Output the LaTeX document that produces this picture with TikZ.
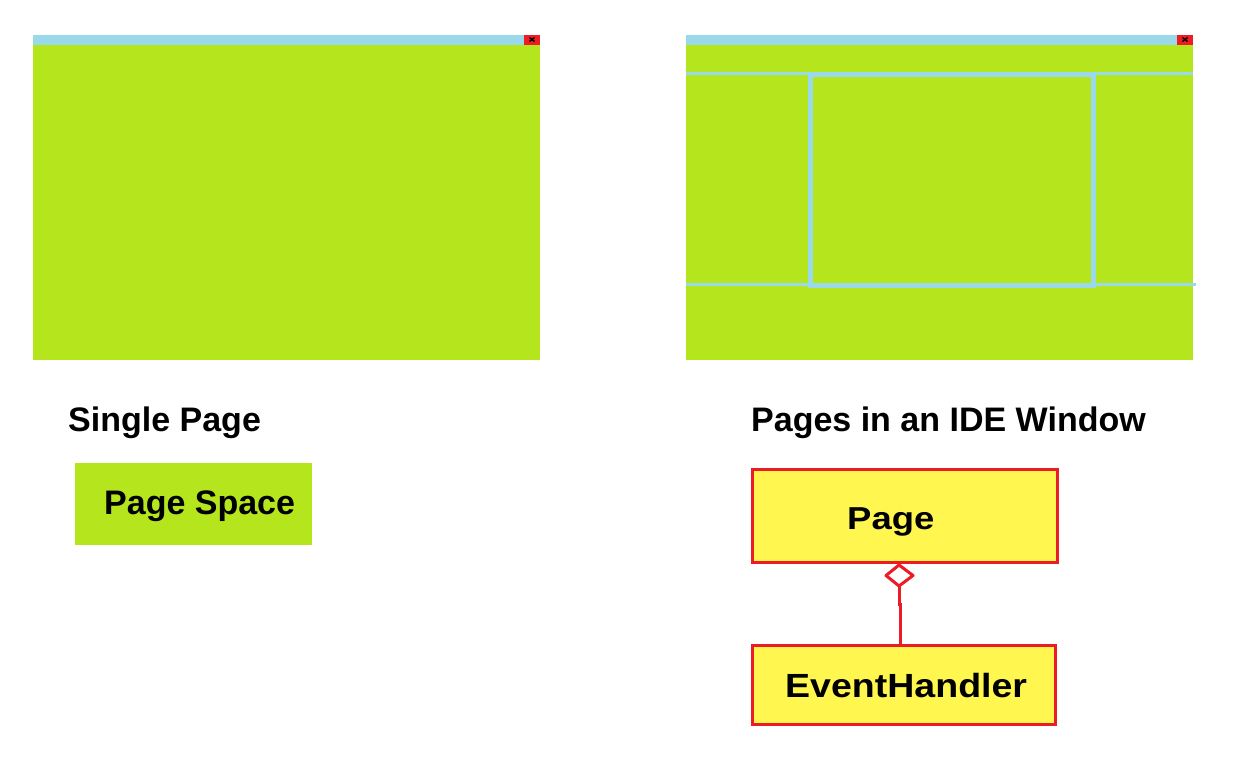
\documentclass[tikz,border=0pt]{standalone}
\usepackage{fontspec}
\setmainfont{Liberation Sans}
\usepackage{graphicx}
\definecolor{lime}{RGB}{181,230,29}
\definecolor{sky}{RGB}{153,217,234}
\definecolor{alert}{RGB}{237,28,36}
\definecolor{note}{RGB}{255,246,80}
\tikzset{
  pane/.style={fill=lime, draw=none},
  titlebar/.style={fill=sky, draw=none},
  closebtn/.style={fill=alert, draw=none},
  divider/.style={draw=sky, line width=3pt},
  caption/.style={font=\fontsize{34}{36}\selectfont\bfseries, inner sep=0pt, anchor=base west},
  classbox/.style={fill=note, draw=alert, line width=3pt, inner sep=0pt, outer sep=0pt},
  classtext/.style={inner sep=0pt, anchor=base west},
  aggregation/.style={draw=alert, line width=3pt},
}
\begin{document}
\begin{tikzpicture}[x=1pt, y=-1pt]
\useasboundingbox (0,0) rectangle (1256,778);

% single page window
\fill[pane] (33,45) rectangle (540,360);
\fill[titlebar] (33,35) rectangle (540,45);
\fill[closebtn] (524,35) rectangle (540,45);
\draw[line width=1.3pt] (529.5,37.5) -- (534.5,41.5) (529.5,41.5) -- (534.5,37.5);

% IDE window
\fill[pane] (686,45) rectangle (1193,360);
\fill[titlebar] (686,35) rectangle (1193,45);
\fill[closebtn] (1177,35) rectangle (1193,45);
\draw[line width=1.3pt] (1182.5,37.5) -- (1187.5,41.5) (1182.5,41.5) -- (1187.5,37.5);
\draw[divider] (686,73.5) -- (1193,73.5);
\draw[divider] (686,284.5) -- (1196,284.5);
\draw[draw=sky, line width=5pt] (810.5,75) rectangle (1093.5,285.5);

% captions
\node[caption] (single) at (68,431) {Single Page};
\node[caption] (ide) at (751,431) {Pages in an IDE Window};

% page space swatch
\node[pane, minimum width=237pt, minimum height=82pt, inner sep=0pt, outer sep=0pt, anchor=north west] (space) at (75,463) {};
\node[caption] (spacelabel) at (104,514) {Page Space};

% class boxes
\node[classbox, minimum width=305pt, minimum height=93pt, anchor=north west] (page) at (752.5,469.5) {};
\node[classtext] (pagelabel) at (847,529) {\scalebox{1.15}[1]{\fontsize{31.7}{34}\selectfont\bfseries Page}};
\node[classbox, minimum width=303pt, minimum height=79pt, anchor=north west] (handler) at (752.5,645.5) {};
\node[classtext] (handlerlabel) at (785,697) {\scalebox{1.12}[1]{\fontsize{33.5}{36}\selectfont\bfseries EventHandler}};

% aggregation: diamond at Page, line to EventHandler
\coordinate (dtop) at (899,565);
\coordinate (dbot) at (899,586);
\draw[aggregation, line join=round] (dtop) -- (913,575.5) -- (dbot) -- (886,575.5) -- cycle;
\draw[aggregation] (dbot) -- (899,604) -- (900.5,604) -- (handler.north -| 900.5,0);
\end{tikzpicture}
\end{document}
